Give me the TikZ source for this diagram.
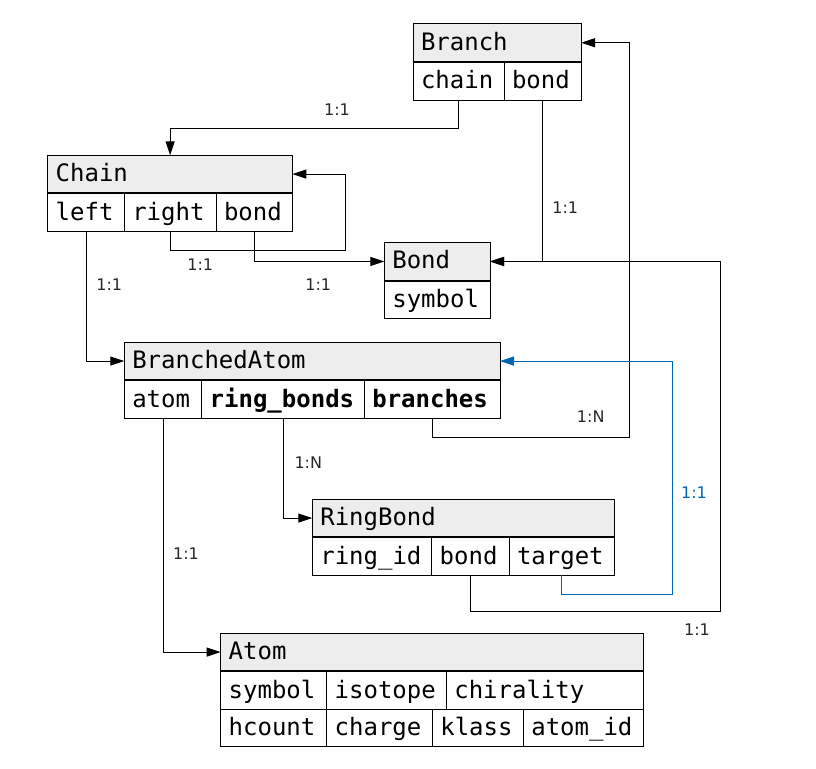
\documentclass[tikz,border=0pt]{standalone}
\usepackage{fontspec}
\setmonofont{DejaVu Sans Mono}
\setsansfont{DejaVu Sans}
\usetikzlibrary{positioning}
\usetikzlibrary{arrows.meta}
\definecolor{hdrgray}{RGB}{237,237,237}
\definecolor{refblue}{RGB}{0,102,179}

\begin{document}
\begin{tikzpicture}[x=1pt, y=-1pt, every node/.style={outer sep=0pt},
    hdr/.style={draw, line width=1pt, fill=hdrgray, anchor=north west, minimum height=37.5pt,
        inner xsep=8pt, text height=18.5pt, text depth=3.5pt, align=left,
        font=\ttfamily\fontsize{24}{26}\selectfont},
    fld/.style={hdr, fill=white},
    rel/.style={line width=1pt, -{Triangle[length=14pt, width=9pt]}},
    card/.style={font=\sffamily\fontsize{16}{18}\selectfont, text=black!85, inner sep=0pt}]

    \useasboundingbox (0,0) rectangle (816,768);

    \node[hdr, text width=152pt] (branch) at (413,24) {Branch};
    \node[fld, text width=75pt, below right=1pt and 0pt of branch.south west] (branch-chain) {chain};
    \node[fld, text width=61pt, right=0pt of branch-chain] (branch-bond) {bond};

    \node[hdr, text width=228.6pt] (chain) at (47.7,155.3) {Chain};
    \node[fld, text width=60.6pt, below right=1pt and 0pt of chain.south west] (chain-left) {left};
    \node[fld, text width=75.7pt, right=0pt of chain-left] (chain-right) {right};
    \node[fld, text width=60.3pt, right=0pt of chain-right] (chain-bond) {bond};

    \node[hdr, text width=89.7pt] (bond) at (384.3,242.7) {Bond};
    \node[fld, text width=89.7pt, below right=1pt and 0pt of bond.south west] (bond-symbol) {symbol};

    \node[hdr, text width=359.7pt] (batom) at (124.3,342.3) {BranchedAtom};
    \node[fld, text width=61.4pt, below right=1pt and 0pt of batom.south west] (batom-atom) {atom};
    \node[fld, text width=146.6pt, right=0pt of batom-atom] (batom-rings) {\textbf{ring\_bonds}};
    \node[fld, text width=119.7pt, right=0pt of batom-rings] (batom-branches) {\textbf{branches}};

    \node[hdr, text width=286pt] (ringbond) at (312.3,499.3) {RingBond};
    \node[fld, text width=103.4pt, below right=1pt and 0pt of ringbond.south west] (rbond-id) {ring\_id};
    \node[fld, text width=61.3pt, right=0pt of rbond-id] (rbond-bond) {bond};
    \node[fld, text width=89.3pt, right=0pt of rbond-bond] (rbond-target) {target};

    \node[hdr, text width=406.6pt] (atom) at (220.7,633.3) {Atom};
    \node[fld, text width=90pt, below right=1pt and 0pt of atom.south west] (atom-symbol) {symbol};
    \node[fld, text width=103.6pt, right=0pt of atom-symbol] (atom-isotope) {isotope};
    \node[fld, text width=181pt, right=0pt of atom-isotope] (atom-chirality) {chirality};
    \node[fld, text width=90pt, below right=0pt and 0pt of atom-symbol.south west] (atom-hcount) {hcount};
    \node[fld, text width=89.6pt, right=0pt of atom-hcount] (atom-charge) {charge};
    \node[fld, text width=75pt, right=0pt of atom-charge] (atom-klass) {klass};
    \node[fld, text width=104pt, right=0pt of atom-klass] (atom-id) {atom\_id};

    \draw[rel] (branch-chain.south) -- ++(0,28) -| (chain-right |- chain.north);
    \draw[rel] (chain-left.south) |- (batom.west);
    \draw[rel] (chain-right.south) -- ++(0,19) -| ([xshift=53pt]chain.east) -- (chain.east);
    \draw[rel] (chain-bond.south) |- (bond.west);
    \draw[rel] (branch-bond.south) |- (bond.east);
    \draw[rel] (batom-branches.south) -- ++(0,19) -| ([xshift=48pt]branch.east) -- (branch.east);
    \draw[rel] (batom-rings.south) |- (ringbond.west);
    \draw[rel] (batom-atom.south) |- (atom.west);
    \draw[rel] (rbond-bond.south) -- ++(0,36) -| ([xshift=230pt]bond.east) -- (bond.east);
    \draw[rel, color=refblue] (rbond-target.south) -- ++(0,19) -| ([xshift=172pt]batom.east) -- (batom.east);

    \node[card] (card-branch-chain) at (337,110) {1:1};
    \node[card] (card-chain-left) at (109.3,284.5) {1:1};
    \node[card] (card-chain-right) at (200.3,264.7) {1:1};
    \node[card] (card-chain-bond) at (318.3,284.5) {1:1};
    \node[card] (card-branch-bond) at (565.2,207.8) {1:1};
    \node[card] (card-branches) at (590.7,417) {1:N};
    \node[card] (card-rings) at (308.3,462.3) {1:N};
    \node[card] (card-atom) at (186,553.3) {1:1};
    \node[card] (card-rbond-bond) at (697,630) {1:1};
    \node[card, text=refblue] (card-target) at (694,493) {1:1};

\end{tikzpicture}
\end{document}
